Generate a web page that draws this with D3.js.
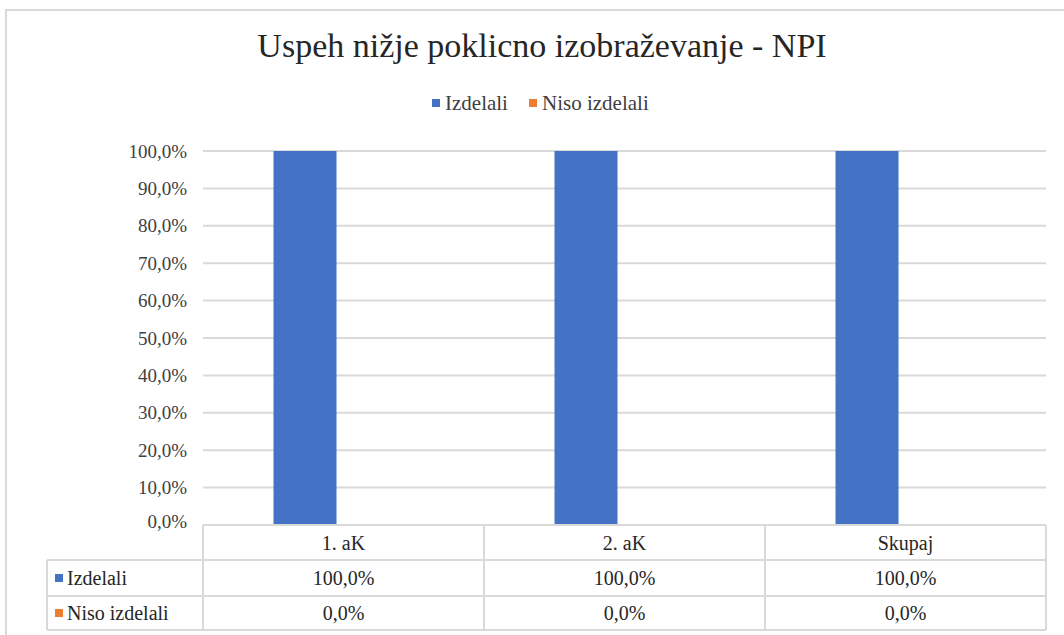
<!DOCTYPE html>
<html>
<head>
<meta charset="utf-8">
<script src="https://cdn.jsdelivr.net/npm/d3@7"></script>
<style>
  body { margin: 0; background: #fff; }
</style>
</head>
<body>
<script>
const width = 1064;
const height = 635;

// data
const categories = ['1. aK', '2. aK', 'Skupaj'];
const seriesNames = ['Izdelali', 'Niso izdelali'];
const izdelali = [100, 100, 100];
const nisoIzdelali = [0, 0, 0];
const yTicks = [0, 10, 20, 30, 40, 50, 60, 70, 80, 90, 100];
const colors = ['#4472C4', '#ED7D31'];

const seriesValues = [izdelali, nisoIzdelali];
const fmt = v => d3.format('.1f')(v).replace('.', ',') + '%';

const svg = d3.select('body').append('svg')
  .attr('width', width)
  .attr('height', height)
  .attr('font-family', "'Liberation Serif', 'DejaVu Serif', serif");

// outer chart border
svg.append('rect')
  .attr('x', 6).attr('y', 10)
  .attr('width', 1070).attr('height', 640)
  .attr('fill', '#fff')
  .attr('stroke', '#d9d9d9')
  .attr('stroke-width', 2);

const plot = { left: 203, right: 1046, top: 151, bottom: 525 };

const x0 = d3.scaleBand()
  .domain(categories)
  .range([plot.left, plot.right]);

// two series side by side, offset like Excel's cluster
const x1 = d3.scaleBand()
  .domain(seriesNames)
  .range([-70, 56]);

const y = d3.scaleLinear()
  .domain([0, 100])
  .range([plot.bottom, plot.top]);

// title
svg.append('text')
  .attr('x', 542).attr('y', 57)
  .attr('text-anchor', 'middle')
  .style('font-size', '34px')
  .style('fill', '#262626')
  .text('Uspeh nižje poklicno izobraževanje - NPI');

// legend
const legendX = [432, 529];
const legend = svg.append('g');
seriesNames.forEach((s, i) => {
  legend.append('rect')
    .attr('x', legendX[i]).attr('y', 99)
    .attr('width', 8).attr('height', 8)
    .attr('fill', colors[i]);
  legend.append('text')
    .attr('x', legendX[i] + 13).attr('y', 110)
    .style('font-size', '21px')
    .style('fill', '#404040')
    .text(s);
});

// gridlines
svg.append('g')
  .selectAll('line')
  .data(yTicks.filter(t => t > 0))
  .enter().append('line')
    .attr('x1', plot.left).attr('x2', plot.right)
    .attr('y1', d => y(d)).attr('y2', d => y(d))
    .attr('stroke', '#d9d9d9')
    .attr('stroke-width', 2);

// y labels
svg.append('g')
  .selectAll('text')
  .data(yTicks)
  .enter().append('text')
    .attr('x', 187)
    .attr('y', d => y(d) - (d === 0 ? 4 : 0))
    .attr('dy', '0.35em')
    .attr('text-anchor', 'end')
    .style('font-size', '19px')
    .style('fill', '#404040')
    .text(fmt);

// bars
seriesNames.forEach((s, si) => {
  svg.append('g')
    .selectAll('rect')
    .data(categories.map((c, i) => ({ c, v: seriesValues[si][i] })))
    .enter().append('rect')
      .attr('x', d => x0(d.c) + x0.bandwidth() / 2 + x1(s))
      .attr('y', d => y(d.v))
      .attr('width', x1.bandwidth())
      .attr('height', d => y(0) - y(d.v))
      .attr('fill', colors[si]);
});

// data table
const rows = [525, 560, 596, 630];
const tableLeft = 47;
const table = svg.append('g')
  .attr('stroke', '#d9d9d9')
  .attr('stroke-width', 2);

// horizontal lines
table.append('line')
  .attr('x1', plot.left).attr('x2', plot.right)
  .attr('y1', rows[0]).attr('y2', rows[0]);
rows.slice(1).forEach(r => {
  table.append('line')
    .attr('x1', tableLeft).attr('x2', plot.right)
    .attr('y1', r).attr('y2', r);
});
// vertical lines
table.append('line')
  .attr('x1', tableLeft).attr('x2', tableLeft)
  .attr('y1', rows[1]).attr('y2', rows[3]);
categories.forEach(c => {
  table.append('line')
    .attr('x1', x0(c)).attr('x2', x0(c))
    .attr('y1', rows[0]).attr('y2', rows[3]);
});
table.append('line')
  .attr('x1', plot.right).attr('x2', plot.right)
  .attr('y1', rows[0]).attr('y2', rows[3]);

// header
svg.append('g')
  .selectAll('text')
  .data(categories)
  .enter().append('text')
    .attr('x', d => x0(d) + x0.bandwidth() / 2)
    .attr('y', (rows[0] + rows[1]) / 2)
    .attr('dy', '0.35em')
    .attr('text-anchor', 'middle')
    .style('font-size', '20px')
    .style('fill', '#262626')
    .text(d => d);

// series rows
seriesNames.forEach((s, si) => {
  const cy = (rows[si + 1] + rows[si + 2]) / 2;
  svg.append('rect')
    .attr('x', 55).attr('y', cy - 4)
    .attr('width', 8).attr('height', 8)
    .attr('fill', colors[si]);
  svg.append('text')
    .attr('x', 67).attr('y', cy)
    .attr('dy', '0.35em')
    .style('font-size', '20px')
    .style('fill', '#262626')
    .text(s);
  svg.append('g')
    .selectAll('text')
    .data(categories.map((c, i) => ({ c, v: seriesValues[si][i] })))
    .enter().append('text')
      .attr('x', d => x0(d.c) + x0.bandwidth() / 2)
      .attr('y', cy)
      .attr('dy', '0.35em')
      .attr('text-anchor', 'middle')
      .style('font-size', '20px')
      .style('fill', '#262626')
      .text(d => fmt(d.v));
});
</script>
</body>
</html>
